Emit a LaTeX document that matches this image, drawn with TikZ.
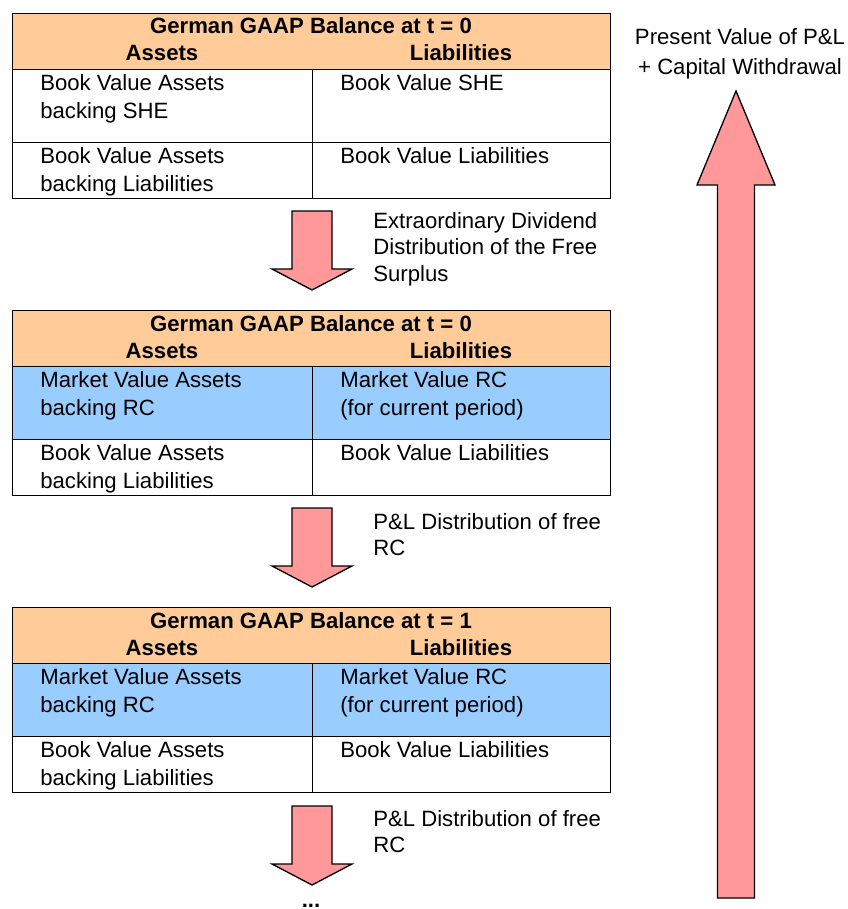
\documentclass[tikz,border=0pt]{standalone}
\usepackage{xcolor}
\usepackage{fontspec}
\setmainfont{Liberation Sans}
\usepackage{tikz}

\definecolor{hdrorange}{RGB}{255,204,153}
\definecolor{rcblue}{RGB}{153,204,255}
\definecolor{arrpink}{RGB}{255,153,153}

\begin{document}
\begin{tikzpicture}[
    x=0.02cm, y=-0.02cm,
    font=\fontsize{12.6}{15.9}\selectfont,
    hdrbox/.style={draw, line width=0.8pt, fill=hdrorange, anchor=north west, inner sep=0pt, minimum width=11.96cm, minimum height=1.12cm},
    cellbox/.style={draw, line width=0.8pt, fill=white, anchor=north west, inner sep=0pt},
    hdrtext/.style={font=\fontsize{12.6}{15.9}\selectfont\bfseries, anchor=base, inner sep=0pt},
    celltext/.style={anchor=north west, align=left, inner sep=0pt},
    steptext/.style={anchor=north west, align=left, inner sep=0pt, font=\fontsize{12.6}{15}\selectfont},
    blockarr/.style={draw, line width=0.75pt, fill=arrpink, line join=miter}
]
\useasboundingbox (0,0) rectangle (848,909);
% --- Balance 1: t = 0, book values ---
\node[hdrbox] (hd1) at (12,13) {};
\node[cellbox, minimum width=6cm, minimum height=1.46cm] (a1) at (12,69) {};
\node[cellbox, minimum width=5.96cm, minimum height=1.46cm] (l1) at (312,69) {};
\node[cellbox, minimum width=6cm, minimum height=1.12cm] (a1b) at (12,142) {};
\node[cellbox, minimum width=5.96cm, minimum height=1.12cm] (l1b) at (312,142) {};
\node[hdrtext] (ti1) at (311,34) {German GAAP Balance at t = 0};
\node[hdrtext] (as1) at (162,61) {Assets};
\node[hdrtext] (li1) at (461,61) {Liabilities};
\node[celltext] (a1t) at (40,74) {Book Value Assets\\backing SHE};
\node[celltext] (l1t) at (340,74) {Book Value SHE};
\node[celltext] (a1bt) at (40,147) {Book Value Assets\\backing Liabilities};
\node[celltext] (l1bt) at (340,147) {Book Value Liabilities};
% --- Balance 2: t = 0, market value RC ---
\node[hdrbox] (hd2) at (12,310) {};
\node[cellbox, fill=rcblue, minimum width=6cm, minimum height=1.46cm] (a2) at (12,366) {};
\node[cellbox, fill=rcblue, minimum width=5.96cm, minimum height=1.46cm] (l2) at (312,366) {};
\node[cellbox, minimum width=6cm, minimum height=1.12cm] (a2b) at (12,439) {};
\node[cellbox, minimum width=5.96cm, minimum height=1.12cm] (l2b) at (312,439) {};
\node[hdrtext] (ti2) at (311,331) {German GAAP Balance at t = 0};
\node[hdrtext] (as2) at (162,358) {Assets};
\node[hdrtext] (li2) at (461,358) {Liabilities};
\node[celltext] (a2t) at (40,371) {Market Value Assets\\backing RC};
\node[celltext] (l2t) at (340,371) {Market Value RC\\(for current period)};
\node[celltext] (a2bt) at (40,444) {Book Value Assets\\backing Liabilities};
\node[celltext] (l2bt) at (340,444) {Book Value Liabilities};
% --- Balance 3: t = 1 ---
\node[hdrbox] (hd3) at (12,607) {};
\node[cellbox, fill=rcblue, minimum width=6cm, minimum height=1.46cm] (a3) at (12,663) {};
\node[cellbox, fill=rcblue, minimum width=5.96cm, minimum height=1.46cm] (l3) at (312,663) {};
\node[cellbox, minimum width=6cm, minimum height=1.12cm] (a3b) at (12,736) {};
\node[cellbox, minimum width=5.96cm, minimum height=1.12cm] (l3b) at (312,736) {};
\node[hdrtext] (ti3) at (311,628) {German GAAP Balance at t = 1};
\node[hdrtext] (as3) at (162,655) {Assets};
\node[hdrtext] (li3) at (461,655) {Liabilities};
\node[celltext] (a3t) at (40,668) {Market Value Assets\\backing RC};
\node[celltext] (l3t) at (340,668) {Market Value RC\\(for current period)};
\node[celltext] (a3bt) at (40,741) {Book Value Assets\\backing Liabilities};
\node[celltext] (l3bt) at (340,741) {Book Value Liabilities};
% --- Down arrows between balances ---
\coordinate (dn1) at (312,211);
\coordinate (dn2) at (312,508);
\coordinate (dn3) at (312,806);
\draw[blockarr] (dn1) ++(-20,0) -- ++(40,0) -- ++(0,58) -- ++(20,0) -- ++(-40,21) -- ++(-40,-21) -- ++(20,0) -- cycle;
\draw[blockarr] (dn2) ++(-20,0) -- ++(40,0) -- ++(0,58) -- ++(20,0) -- ++(-40,21) -- ++(-40,-21) -- ++(20,0) -- cycle;
\draw[blockarr] (dn3) ++(-20,0) -- ++(40,0) -- ++(0,58) -- ++(20,0) -- ++(-40,21) -- ++(-40,-21) -- ++(20,0) -- cycle;
\node[steptext] (st1) at (373,212) {Extraordinary Dividend\\Distribution of the Free\\Surplus};
\node[steptext] (st2) at (373,513) {P\&L Distribution of free\\RC};
\node[steptext] (st3) at (373,810) {P\&L Distribution of free\\RC};
\node[hdrtext] (dots) at (311,907) {...};
% --- Present value arrow ---
\coordinate (pvtip) at (736,91);
\draw[blockarr] (pvtip) -- ++(39,94) -- ++(-20.5,0) -- ++(0,713) -- ++(-37,0) -- ++(0,-713) -- ++(-20.5,0) -- cycle;
\node[anchor=north, align=center, inner sep=0pt, font=\fontsize{12.6}{17}\selectfont] (pv) at (740,28) {Present Value of P\&L\\+ Capital Withdrawal};
\end{tikzpicture}
\end{document}
